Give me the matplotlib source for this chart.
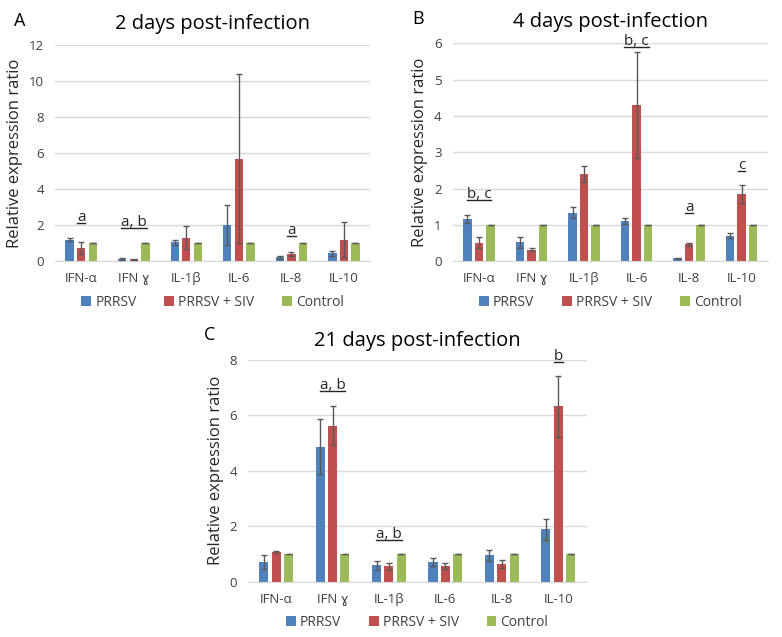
import numpy as np
import matplotlib
matplotlib.use("Agg")
import matplotlib.pyplot as plt
from matplotlib.lines import Line2D

plt.rcParams['font.family'] = ['Open Sans', 'DejaVu Sans']

genes = ["IFN-α", "IFN ɣ", "IL-1β", "IL-6", "IL-8", "IL-10"]
groups = ["PRRSV", "PRRSV + SIV", "Control"]
colors = ["#4F81BD", "#C0504D", "#9BBB59"]

# 2 days post-infection
d2_prrsv = [1.20, 0.12, 1.05, 2.00, 0.22, 0.43]
d2_prrsv_err = [0.07, 0.05, 0.15, 1.10, 0.08, 0.12]
d2_siv = [0.72, 0.10, 1.30, 5.70, 0.38, 1.20]
d2_siv_err = [0.33, 0.03, 0.65, 4.70, 0.12, 0.95]
d2_ctrl = [1, 1, 1, 1, 1, 1]
d2_marks = {0: ("a", 2.0), 1: ("a, b", 1.75), 4: ("a", 1.3)}

# 4 days post-infection
d4_prrsv = [1.16, 0.52, 1.34, 1.10, 0.08, 0.70]
d4_prrsv_err = [0.10, 0.15, 0.16, 0.08, 0.02, 0.07]
d4_siv = [0.51, 0.32, 2.40, 4.30, 0.46, 1.85]
d4_siv_err = [0.15, 0.04, 0.22, 1.47, 0.05, 0.25]
d4_ctrl = [1, 1, 1, 1, 1, 1]
d4_marks = {0: ("b, c", 1.62), 3: ("b, c", 5.85), 4: ("a", 1.28), 5: ("c", 2.42)}

# 21 days post-infection
d21_prrsv = [0.72, 4.87, 0.60, 0.72, 0.96, 1.90]
d21_prrsv_err = [0.25, 1.00, 0.17, 0.15, 0.20, 0.37]
d21_siv = [1.08, 5.62, 0.57, 0.57, 0.66, 6.32]
d21_siv_err = [0.04, 0.70, 0.13, 0.10, 0.15, 1.10]
d21_ctrl = [1, 1, 1, 1, 1, 1]
d21_marks = {1: ("a, b", 6.8), 2: ("a, b", 1.45), 5: ("b", 7.85)}

fig = plt.figure(figsize=(7.82, 6.37), dpi=100)

underlined = []


def panel(rect, letter, title, vals, errs, marks, ymax, ystep, leg_y, tpad):
    ax = fig.add_axes(rect)
    x = np.arange(len(genes))
    w = 0.16
    offs = [-0.22, 0.0, 0.22]
    for v, e, c, o, lab in zip(vals, errs, colors, offs, groups):
        ax.bar(x + o, v, w, color=c, label=lab, zorder=2)
        ax.errorbar(x + o, v, yerr=e, fmt="none", ecolor="#595959",
                    elinewidth=1, capsize=2.5, capthick=1, zorder=3)
    ax.set_xlim(-0.5, len(genes) - 0.5)
    ax.set_ylim(0, ymax)
    ax.set_yticks(np.arange(0, ymax + 0.01, ystep))
    ax.set_xticks(x)
    ax.set_xticklabels(genes)
    ax.yaxis.grid(True, color="#D9D9D9", lw=1, zorder=0)
    ax.set_axisbelow(True)
    for s in ["top", "right", "left"]:
        ax.spines[s].set_visible(False)
    ax.spines["bottom"].set_color("#D9D9D9")
    ax.tick_params(length=0, colors="#404040", labelsize=9.5, pad=8)
    ax.set_ylabel("Relative expression ratio", fontsize=12, color="#262626")
    ax.set_title(title, fontsize=14.5, pad=tpad)
    ax.text(-0.13, 1.07, letter, transform=ax.transAxes, fontsize=13,
            ha="left", va="bottom")
    for i, (txt, yv) in marks.items():
        t = ax.text(i, yv, txt, ha="center", va="bottom", fontsize=11,
                    color="#262626")
        underlined.append(t)
    ax.legend(loc="center", bbox_to_anchor=(0.5, leg_y), ncol=3,
              frameon=False, fontsize=10, handlelength=0.7,
              handleheight=0.7, handletextpad=0.3, columnspacing=2.0,
              labelcolor="#404040")
    return ax


panel([0.0703, 0.590, 0.403, 0.339], "A", "2 days post-infection",
      [d2_prrsv, d2_siv, d2_ctrl], [d2_prrsv_err, d2_siv_err, [0] * 6],
      d2_marks, 12, 2, -0.19, 12)
panel([0.579, 0.590, 0.403, 0.342], "B", "4 days post-infection",
      [d4_prrsv, d4_siv, d4_ctrl], [d4_prrsv_err, d4_siv_err, [0] * 6],
      d4_marks, 6, 1, -0.19, 12)
panel([0.317, 0.0863, 0.433, 0.349], "C", "21 days post-infection",
      [d21_prrsv, d21_siv, d21_ctrl], [d21_prrsv_err, d21_siv_err, [0] * 6],
      d21_marks, 8, 2, -0.18, 10)

# underline the significance letters
fig.canvas.draw()
inv = fig.transFigure.inverted()
for t in underlined:
    bb = t.get_window_extent()
    (x0, y0), (x1, _) = inv.transform([[bb.x0, bb.y0 + 2], [bb.x1, bb.y0]])
    fig.add_artist(Line2D([x0, x1], [y0, y0], color="#262626", lw=1,
                          transform=fig.transFigure))

fig.savefig("out.png", dpi=100)
